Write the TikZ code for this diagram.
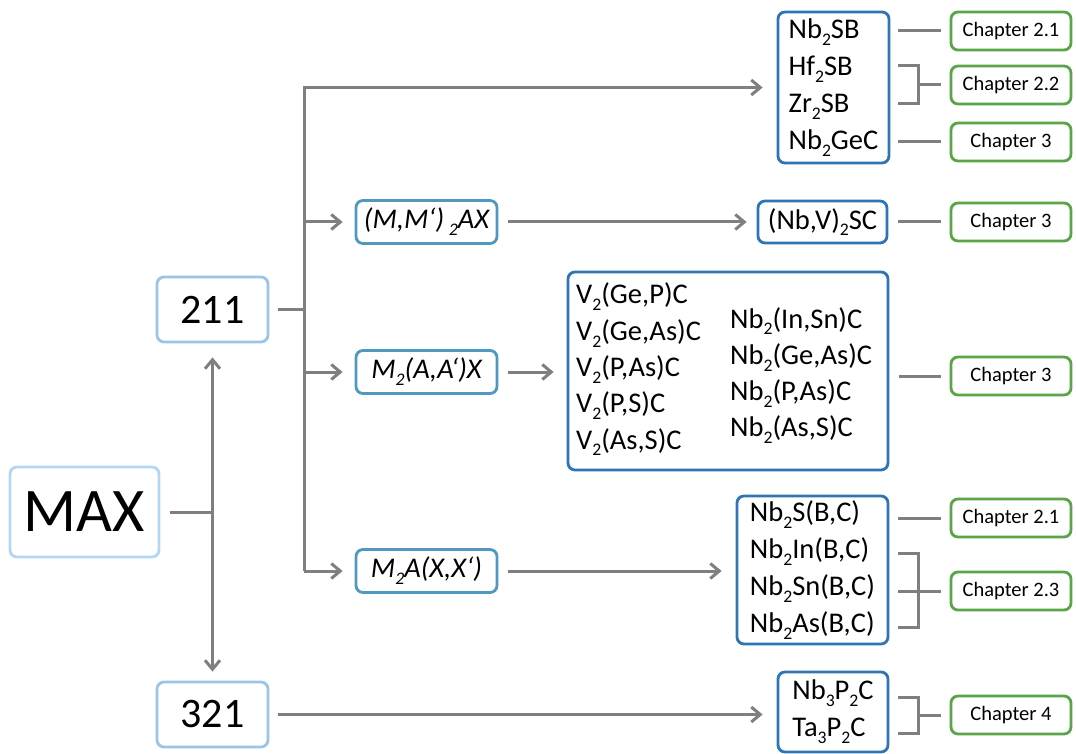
\documentclass[tikz,border=0pt]{standalone}
\usepackage{fontspec}
\setmainfont{Carlito}
\usetikzlibrary{positioning,arrows.meta,calc}
\definecolor{pale}{HTML}{B4D6F5}
\definecolor{sky}{HTML}{9DC3E6}
\definecolor{teal}{HTML}{4F98C0}
\definecolor{navy}{HTML}{2E75B6}
\definecolor{leaf}{HTML}{5AA547}
\definecolor{grey}{HTML}{7F7F7F}
\tikzset{box/.style={draw,line width=2.8pt,rounded corners=7pt,fill=white,inner sep=0pt,align=center},
         pclass/.style={box,draw=sky,minimum width=111,minimum height=65,font=\fontsize{42}{42}\selectfont},
         pform/.style={box,draw=teal,minimum width=141,minimum height=43,font=\fontsize{28.5}{28}\selectfont\itshape},
         pcomp/.style={box,draw=navy,align=left,font=\fontsize{28.5}{37}\selectfont},
         plist/.style={inner sep=0pt,align=left,font=\fontsize{28.5}{36.3}\selectfont},
         pchap/.style={box,draw=leaf,minimum width=120,minimum height=38,font=\fontsize{20.5}{20}\selectfont},
         line/.style={grey,line width=3pt},
         arr/.style={line,-{Straight Barb[length=9pt,width=15pt]}},
         darr/.style={line,{Straight Barb[length=9pt,width=15pt]}-{Straight Barb[length=9pt,width=15pt]}}}
\newcommand{\ix}[1]{\raisebox{-0.5ex}{\scalebox{0.62}{#1}}}

\begin{document}
\begin{tikzpicture}[x=1pt,y=-1pt]
 \useasboundingbox (0,0) rectangle (1076,754);
 % classes
 \node[box,draw=pale,minimum width=149,minimum height=90,font=\fontsize{62}{62}\selectfont] (max) at (84.5,512) {MAX};
 \node[pclass] (n211) at (212.5,309.5) {211};
 \node[pclass] (n321) at (212.5,714.5) {321};
 \node[pform] (fmm) at (426.5,222) {(M,M‘)\,\ix{2}AX};
 \node[pform] (faa) at (426.5,372) {M\ix{2}(A,A‘)X};
 \node[pform] (fxx) at (426.5,571) {M\ix{2}A(X,X‘)};
 % compounds
 \node[pcomp,minimum width=111,minimum height=151] (top) at (833.5,87.5) {Nb\ix{2}SB\\Hf\ix{2}SB\\Zr\ix{2}SB\\Nb\ix{2}GeC};
 \node[pcomp,minimum width=129,minimum height=42] (nbv) at (822.5,222) {(Nb,V)\ix{2}SC};
 \node[box,draw=navy,minimum width=320,minimum height=198] (mix) at (728,371) {};
 \node[plist,anchor=west] (mixl) at (576,369.5) {V\ix{2}(Ge,P)C\\V\ix{2}(Ge,As)C\\V\ix{2}(P,As)C\\V\ix{2}(P,S)C\\V\ix{2}(As,S)C};
 \node[plist,anchor=west] (mixr) at (730,375.5) {Nb\ix{2}(In,Sn)C\\Nb\ix{2}(Ge,As)C\\Nb\ix{2}(P,As)C\\Nb\ix{2}(As,S)C};
 \node[pcomp,minimum width=151,minimum height=148] (bc) at (812.5,570) {Nb\ix{2}S(B,C)\\Nb\ix{2}In(B,C)\\Nb\ix{2}Sn(B,C)\\Nb\ix{2}As(B,C)};
 \node[pcomp,minimum width=110,minimum height=80] (p2c) at (833,712) {Nb\ix{3}P\ix{2}C\\Ta\ix{3}P\ix{2}C};
 % chapters
 \node[pchap] (c21a) at (1011,31) {Chapter 2.1};
 \node[pchap] (c22) at (1011,85) {Chapter 2.2};
 \node[pchap] (c3a) at (1011,142) {Chapter 3};
 \node[pchap] (c3b) at (1011,222) {Chapter 3};
 \node[pchap] (c3c) at (1011,376) {Chapter 3};
 \node[pchap] (c21b) at (1011,518) {Chapter 2.1};
 \node[pchap] (c23) at (1011,591) {Chapter 2.3};
 \node[pchap] (c4) at (1011,715) {Chapter 4};
 % tree
 \coordinate (trunk) at (304,312);
 \draw[darr] ([yshift=-14pt]n211.south) -- ([yshift=9pt]n321.north);
 \draw[line] ([xshift=10pt]max.east) -- (max.east -| n211.south);
 \draw[line] ([xshift=9pt]n211.east) -- (n211.east -| trunk);
 \draw[arr,shorten >=14pt] (trunk |- fxx.west) -- (trunk |- top.west) -- (top.west);
 \draw[arr,shorten >=12pt] (trunk |- fmm.west) -- (fmm.west);
 \draw[arr,shorten >=12pt] (trunk |- faa.west) -- (faa.west);
 \draw[arr,shorten >=12pt] (trunk |- fxx.west) -- (fxx.west);
 \draw[arr,shorten >=14pt] ([xshift=9pt]n321.east) -- (n321.east -| top.west);
 \draw[arr,shorten >=10pt] ([xshift=10pt]fmm.east) -- (nbv.west);
 \draw[arr,shorten >=13pt] ([xshift=10pt]faa.east) -- (mix.west |- faa.east);
 \draw[arr,shorten >=14pt] ([xshift=10pt]fxx.east) -- (bc.west |- fxx.east);
 % to chapters
 \draw[line,shorten >=9pt] (898,31) -- (c21a.west);
 \draw[line] (898,66) -| (918,85) |- (898,104);
 \draw[line,shorten >=9pt] (918,85) -- (c22.west);
 \draw[line,shorten >=9pt] (898,142) -- (c3a.west);
 \draw[line,shorten >=9pt] ([xshift=10pt]nbv.east) -- (c3b.west);
 \draw[line,shorten >=9pt] ([xshift=10pt]mix.east |- c3c.west) -- (c3c.west);
 \draw[line,shorten >=9pt] (898,518) -- (c21b.west);
 \draw[line] (898,553) -| (918,591) |- (898,627);
 \draw[line,shorten >=9pt] (898,591) -- (c23.west);
 \draw[line] (898,697) -| (918,715) |- (898,733);
 \draw[line,shorten >=9pt] (918,715) -- (c4.west);
\end{tikzpicture}
\end{document}
